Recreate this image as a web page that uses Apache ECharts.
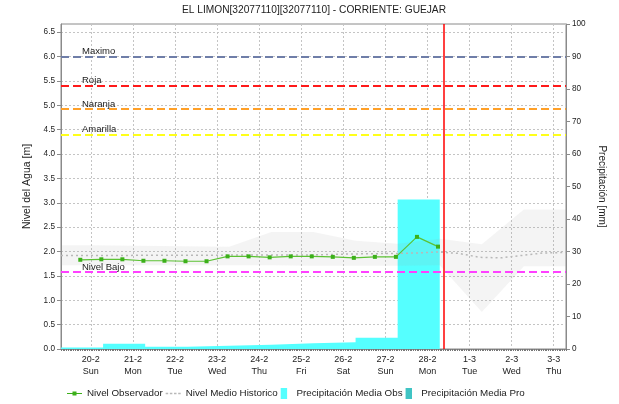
<!DOCTYPE html>
<html><head><meta charset="utf-8">
<script src="https://cdn.jsdelivr.net/npm/echarts@6/dist/echarts.min.js"></script>
<style>html,body{margin:0;padding:0;background:#fff}#c{width:619px;height:404px}</style>
</head><body><div id="c"></div>
<script>
// ---- data ----
const dayLabels = ['20-2\nSun','21-2\nMon','22-2\nTue','23-2\nWed','24-2\nThu','25-2\nFri','26-2\nSat','27-2\nSun','28-2\nMon','1-3\nTue','2-3\nWed','3-3\nThu'];
const firstLabelHour = 17;   // hour (from left edge) of first day label
const totalHours = 288;      // hours spanned by the x axis
const nowHour = 218;         // red "now" marker

const obsHours = [11,23,35,47,59,71,83,95,107,119,131,143,155,167,179,191,203,215];
const obsLevel = [1.83,1.84,1.84,1.81,1.81,1.80,1.80,1.90,1.90,1.88,1.90,1.90,1.89,1.87,1.89,1.89,2.30,2.10];

const histHours = [0,35,143,167,191,203,215,227,239,251,263,275,288];
const histLevel = [1.92,1.92,1.93,1.95,1.96,1.97,1.99,1.96,1.88,1.87,1.92,1.97,1.98];

const bandHours = [0,16,17,96,120,144,168,192,216,240,264,288];
const bandUpper = [2.13,2.13,2.10,2.10,2.40,2.40,2.22,2.16,2.26,2.15,2.86,2.86];
const bandLower = [1.72,1.72,1.72,1.72,1.72,1.71,1.71,1.71,1.72,0.76,1.70,1.70];

const precipDayStart = [0,24,48,72,96,120,144,168,192];
const precipObs = [0.5,1.6,0.7,1.0,1.3,1.8,2.1,3.5,46];
const precipPro = [];

const thresholdNames = ['Maximo','Roja','Naranja','Amarilla','Nivel Bajo'];
const thresholdValues = [6.0,5.4,4.92,4.4,1.58];
const thresholdColors = ['#6f7ea8','#ff1a1a','#ffa028','#ffff1a','#ff40ff'];

// ---- build ----
const cats = [];
for (let i = 0; i <= totalHours; i++) cats.push(String(i));
const isLabelIdx = i => i >= firstLabelHour && (i - firstLabelHour) % 24 === 0;
const pairs = (xs, ys) => xs.map((x, i) => [String(x), ys[i]]);

const precipData = pairs(precipDayStart, precipObs);
precipData.push([String(precipDayStart[precipDayStart.length-1] + 24), precipObs[precipObs.length-1]]);

const bandDiff = bandUpper.map((u, i) => +(u - bandLower[i]).toFixed(3));

const markData = thresholdNames.map((n, i) => ({
  yAxis: thresholdValues[i],
  lineStyle: {color: thresholdColors[i], type: [8,4], width: 2},
  label: {show: true, formatter: n, position: 'insideStartTop', distance: [21, 0], color: '#222', fontSize: 9.5}
}));
markData.push({xAxis: String(nowHour), lineStyle: {color: '#ff0000', type: 'solid', width: 1.5}, label: {show: false}});

const grey = '#8a8a8a';
const rectIcon = 'path://M0,0h7v12h-7z';
const obsIcon = 'path://M0,5h15v1.2h-15z M5.5,3.6h4v4h-4z';
const dotIcon = 'path://M0,0h2.5v1.3h-2.5z M4.2,0h2.5v1.3h-2.5z M8.4,0h2.5v1.3h-2.5z M12.6,0h2.5v1.3h-2.5z';
const chart = echarts.init(document.getElementById('c'), null, {renderer: 'canvas'});
chart.setOption({
  animation: false,
  textStyle: {fontFamily: 'Arial, "Liberation Sans", sans-serif'},
  title: {
    text: 'EL LIMON[32077110][32077110] - CORRIENTE: GUEJAR',
    left: 314, top: 5, textAlign: 'center', padding: 0,
    textStyle: {fontSize: 10.2, fontWeight: 'normal', color: '#222'}
  },
  grid: {left: 61, right: 53, top: 24, bottom: 55, show: true, borderColor: grey, borderWidth: 1, backgroundColor: 'rgba(0,0,0,0)'},
  legend: {
    top: 388, left: 67, itemWidth: 15, itemHeight: 11, itemGap: 3, padding: 0,
    textStyle: {fontSize: 9.8, color: '#222'},
    data: [
      {name: 'Nivel Observador', icon: obsIcon},
      {name: 'Nivel Medio Historico', icon: dotIcon},
      {name: 'Precipitación Media Obs', icon: rectIcon},
      {name: 'Precipitación Media Pro', icon: rectIcon}
    ]
  },
  xAxis: {
    type: 'category', data: cats, boundaryGap: false,
    axisLine: {lineStyle: {color: grey}},
    axisTick: {interval: 0, length: 2, lineStyle: {color: '#777'}},
    axisLabel: {
      interval: (i) => isLabelIdx(i),
      formatter: (v, i) => dayLabels[(i - firstLabelHour) / 24] || '',
      fontSize: 9, color: '#222', lineHeight: 12, margin: 5
    },
    splitLine: {show: true, interval: (i) => isLabelIdx(i), lineStyle: {color: '#c4c4c4', type: [2,2]}}
  },
  yAxis: [
    {
      type: 'value', min: 0, max: 100/15, interval: 0.5, position: 'left',
      name: 'Nivel del Agua [m]', nameLocation: 'middle', nameGap: 26,
      nameTextStyle: {fontSize: 10.5, color: '#222'},
      axisLine: {show: true, lineStyle: {color: grey}},
      axisTick: {show: true, length: 4, lineStyle: {color: grey}},
      axisLabel: {fontSize: 8.2, color: '#222', margin: 6, showMaxLabel: false, formatter: v => v.toFixed(1)},
      splitLine: {show: true, lineStyle: {color: '#c4c4c4', type: [2,2]}}
    },
    {
      type: 'value', min: 0, max: 100, interval: 10, position: 'right',
      name: 'Precipitación [mm]', nameLocation: 'middle', nameGap: 25, nameRotate: -90,
      nameTextStyle: {fontSize: 10, color: '#222'},
      axisLine: {show: true, lineStyle: {color: grey}},
      axisTick: {show: true, length: 4, lineStyle: {color: grey}},
      axisLabel: {fontSize: 8.2, color: '#222', margin: 6},
      splitLine: {show: false}
    }
  ],
  series: [
    {
      name: 'Precipitación Media Obs', type: 'line', yAxisIndex: 1, step: 'end', symbol: 'none',
      data: precipData, lineStyle: {width: 0}, areaStyle: {color: '#55ffff', opacity: 1},
      itemStyle: {color: '#55ffff'}, z: 1, silent: true
    },
    {
      name: 'Precipitación Media Pro', type: 'line', yAxisIndex: 1, data: precipPro,
      itemStyle: {color: '#40c4c4'}, lineStyle: {color: '#40c4c4'}, z: 1
    },
    {
      name: 'bandLower', type: 'line', stack: 'band', data: pairs(bandHours, bandLower),
      symbol: 'none', lineStyle: {opacity: 0}, silent: true, z: 2
    },
    {
      name: 'bandUpper', type: 'line', stack: 'band', data: pairs(bandHours, bandDiff),
      symbol: 'none', lineStyle: {opacity: 0}, areaStyle: {color: 'rgba(160,160,160,0.16)'}, silent: true, z: 2
    },
    {
      name: 'Nivel Medio Historico', type: 'line', data: pairs(histHours, histLevel), symbol: 'none',
      lineStyle: {color: '#b8b8b8', width: 1.5, type: [2,3]}, itemStyle: {color: '#b8b8b8'}, z: 3
    },
    {
      name: 'Nivel Observador', type: 'line', data: pairs(obsHours, obsLevel),
      symbol: 'rect', symbolSize: 4, showSymbol: true, showAllSymbol: true,
      lineStyle: {color: '#5cc234', width: 1.2}, itemStyle: {color: '#3cb01a'}, z: 5,
      markLine: {symbol: 'none', silent: true, animation: false, data: markData}
    }
  ]
});
</script></body></html>
